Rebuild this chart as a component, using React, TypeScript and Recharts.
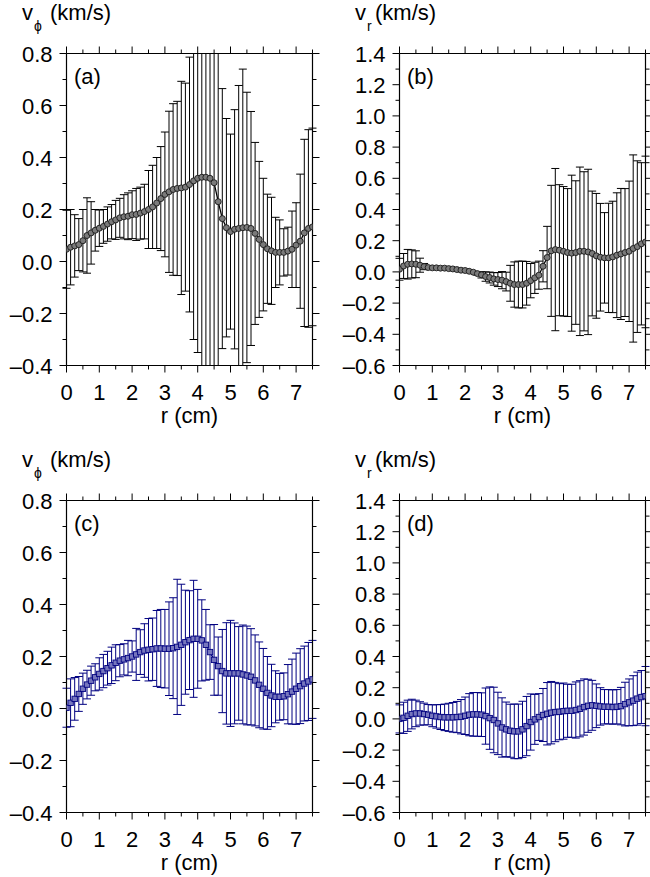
import React from 'react';
import { LineChart, Line, XAxis, YAxis, ErrorBar } from 'recharts';

const r = [0, 0.125, 0.25, 0.375, 0.5, 0.625, 0.75, 0.875, 1, 1.125, 1.25, 1.375, 1.5, 1.625, 1.75, 1.875, 2, 2.125, 2.25, 2.375, 2.5, 2.625, 2.75, 2.875, 3, 3.125, 3.25, 3.375, 3.5, 3.625, 3.75, 3.875, 4, 4.125, 4.25, 4.375, 4.5, 4.625, 4.75, 4.875, 5, 5.125, 5.25, 5.375, 5.5, 5.625, 5.75, 5.875, 6, 6.125, 6.25, 6.375, 6.5, 6.625, 6.75, 6.875, 7, 7.125, 7.25, 7.375, 7.5];

const vPhiA = [0.047, 0.055, 0.06, 0.065, 0.08, 0.1, 0.11, 0.12, 0.128, 0.135,
  0.144, 0.153, 0.16, 0.168, 0.172, 0.174, 0.18, 0.181, 0.186, 0.192,
  0.2, 0.21, 0.225, 0.242, 0.258, 0.268, 0.277, 0.281, 0.283, 0.286,
  0.296, 0.31, 0.32, 0.324, 0.324, 0.32, 0.303, 0.23, 0.165, 0.13,
  0.115, 0.124, 0.127, 0.13, 0.131, 0.127, 0.108, 0.085, 0.065, 0.049,
  0.041, 0.035, 0.035, 0.035, 0.04, 0.047, 0.063, 0.078, 0.11, 0.127, 0.133];
const vPhiAErr = [0.15, 0.145, 0.12, 0.1, 0.12, 0.145, 0.12, 0.08, 0.07, 0.065,
  0.066, 0.066, 0.075, 0.075, 0.085, 0.09, 0.092, 0.1, 0.1, 0.105,
  0.15, 0.16, 0.175, 0.2, 0.24, 0.31, 0.33, 0.335, 0.41, 0.4,
  0.49, 0.61, 0.67, 0.8, 0.85, 0.85, 0.75, 0.7, 0.5, 0.42,
  0.375, 0.46, 0.55, 0.61, 0.52, 0.45, 0.35, 0.3, 0.255, 0.21,
  0.206, 0.135, 0.125, 0.091, 0.092, 0.147, 0.163, 0.258, 0.36, 0.38, 0.38];

const vRB = [0.017, 0.038, 0.049, 0.051, 0.049, 0.043, 0.034, 0.028, 0.026, 0.026,
  0.024, 0.024, 0.021, 0.019, 0.015, 0.011, 0.009, 0.004, -0.002, -0.011,
  -0.019, -0.03, -0.036, -0.045, -0.049, -0.053, -0.062, -0.073, -0.081, -0.081,
  -0.081, -0.073, -0.056, -0.038, -0.021, 0.036, 0.092, 0.135, 0.143, 0.139,
  0.132, 0.124, 0.12, 0.124, 0.132, 0.132, 0.128, 0.118, 0.103, 0.094,
  0.09, 0.09, 0.096, 0.107, 0.115, 0.124, 0.132, 0.15, 0.162, 0.18, 0.192];
const vRBErr = [0.07, 0.08, 0.095, 0.09, 0.086, 0.045, 0.02, 0.01, 0.005, 0.005,
  0.005, 0.005, 0.005, 0.005, 0.005, 0.005, 0.005, 0.005, 0.005, 0.01,
  0.02, 0.03, 0.035, 0.04, 0.045, 0.055, 0.06, 0.115, 0.145, 0.15,
  0.15, 0.14, 0.11, 0.1, 0.09, 0.1, 0.2, 0.42, 0.52, 0.42,
  0.415, 0.41, 0.5, 0.46, 0.54, 0.51, 0.53, 0.4, 0.4, 0.345,
  0.29, 0.35, 0.357, 0.4, 0.42, 0.41, 0.45, 0.6, 0.55, 0.52, 0.55];

const vPhiC = [0.003, 0.022, 0.037, 0.056, 0.076, 0.092, 0.107, 0.12, 0.133, 0.144,
  0.155, 0.166, 0.176, 0.184, 0.189, 0.194, 0.2, 0.208, 0.217, 0.223,
  0.226, 0.228, 0.231, 0.231, 0.23, 0.23, 0.232, 0.237, 0.245, 0.255,
  0.263, 0.268, 0.268, 0.262, 0.245, 0.217, 0.187, 0.163, 0.144, 0.135,
  0.135, 0.135, 0.135, 0.131, 0.127, 0.122, 0.108, 0.091, 0.076, 0.06,
  0.05, 0.045, 0.045, 0.047, 0.055, 0.065, 0.076, 0.086, 0.096, 0.104, 0.112];
const vPhiCErr = [0.075, 0.092, 0.082, 0.067, 0.06, 0.055, 0.056, 0.052, 0.062, 0.064,
  0.065, 0.07, 0.069, 0.062, 0.06, 0.068, 0.06, 0.1, 0.086, 0.103,
  0.12, 0.12, 0.146, 0.15, 0.151, 0.18, 0.194, 0.26, 0.233, 0.2,
  0.19, 0.225, 0.19, 0.156, 0.136, 0.105, 0.136, 0.112, 0.16, 0.195,
  0.204, 0.194, 0.18, 0.19, 0.19, 0.185, 0.175, 0.165, 0.155, 0.14,
  0.12, 0.1, 0.09, 0.09, 0.114, 0.125, 0.137, 0.144, 0.144, 0.15, 0.15];

const vRD = [0, 0.007, 0.02, 0.031, 0.035, 0.035, 0.031, 0.027, 0.02, 0.016,
  0.012, 0.01, 0.01, 0.01, 0.012, 0.014, 0.02, 0.027, 0.029, 0.029,
  0.027, 0.018, 0.005, -0.007, -0.029, -0.055, -0.067, -0.076, -0.08, -0.08,
  -0.067, -0.046, -0.02, -0.003, 0.012, 0.025, 0.033, 0.04, 0.044, 0.046,
  0.05, 0.052, 0.052, 0.057, 0.065, 0.076, 0.084, 0.087, 0.084, 0.08,
  0.078, 0.078, 0.076, 0.078, 0.082, 0.095, 0.106, 0.117, 0.13, 0.14, 0.146];
const vRDErr = [0.09, 0.1, 0.1, 0.095, 0.085, 0.075, 0.07, 0.065, 0.07, 0.075,
  0.08, 0.085, 0.09, 0.095, 0.1, 0.11, 0.12, 0.135, 0.14, 0.14,
  0.14, 0.18, 0.2, 0.21, 0.2, 0.19, 0.175, 0.17, 0.175, 0.175,
  0.18, 0.19, 0.18, 0.16, 0.15, 0.17, 0.2, 0.2, 0.19, 0.18,
  0.18, 0.17, 0.17, 0.18, 0.18, 0.18, 0.17, 0.16, 0.14, 0.12,
  0.11, 0.11, 0.11, 0.11, 0.12, 0.14, 0.15, 0.16, 0.17, 0.17, 0.19];

const xTicks = [0, 0.5, 1, 1.5, 2, 2.5, 3, 3.5, 4, 4.5, 5, 5.5, 6, 6.5, 7, 7.5];
const yTicksPhi = [-0.4, -0.3, -0.2, -0.1, 0, 0.1, 0.2, 0.3, 0.4, 0.5, 0.6, 0.7, 0.8];
const yTicksR = [-0.6, -0.5, -0.4, -0.3, -0.2, -0.1, 0, 0.1, 0.2, 0.3, 0.4, 0.5, 0.6, 0.7, 0.8, 0.9, 1.0, 1.1, 1.2, 1.3, 1.4];

const FONT = '"Liberation Sans", Arial, Helvetica, sans-serif';
const FS = 22;
const MAJ = 7;
const MIN = 4;

const isMajorX = (v: number) => Math.abs(v - Math.round(v)) < 1e-6;
const isMajorY = (v: number) => Math.abs(v * 5 - Math.round(v * 5)) < 1e-6;
const fmtY = (v: number) => {
  const s = Math.abs(v).toFixed(1);
  return v < -1e-9 ? '\u2013' + s : s;
};

const BottomTick = (p: any) => {
  const v = p.payload.value;
  const major = isMajorX(v);
  return (
    <g>
      <line x1={p.x} x2={p.x} y1={p.y} y2={p.y + (major ? MAJ : MIN)} stroke="#000" strokeWidth={1} />
      {major && (
        <text x={p.x} y={p.y + 34} textAnchor="middle" fontSize={FS} fontFamily={FONT} fill="#000">{v}</text>
      )}
    </g>
  );
};
const TopTick = (p: any) => {
  const major = isMajorX(p.payload.value);
  return <line x1={p.x} x2={p.x} y1={p.y} y2={p.y - (major ? MAJ : MIN)} stroke="#000" strokeWidth={1} />;
};
const LeftTick = (p: any) => {
  const v = p.payload.value;
  const major = isMajorY(v);
  return (
    <g>
      <line x1={p.x} x2={p.x - (major ? MAJ : MIN)} y1={p.y} y2={p.y} stroke="#000" strokeWidth={1} />
      {major && (
        <text x={p.x - 14} y={p.y + 8} textAnchor="end" fontSize={FS} fontFamily={FONT} fill="#000">{fmtY(v)}</text>
      )}
    </g>
  );
};
const RightTick = (p: any) => {
  const major = isMajorY(p.payload.value);
  return <line x1={p.x} x2={p.x + (major ? MAJ : MIN)} y1={p.y} y2={p.y} stroke="#000" strokeWidth={1} />;
};

type PanelProps = {
  left: number; top: number; width: number; height: number;
  margin: { top: number; left: number; right: number; bottom: number };
  vals: number[]; errs: number[];
  yDomain: [number, number]; yTicks: number[];
  tag: string; sub: string; unitDx: number;
  blue: boolean;
};

const SquareDot = (p: any) => {
  if (p.cx == null || p.cy == null) return <g key={`sq${p.index}`} />;
  return (
    <rect key={`sq${p.index}`} x={p.cx - 2.7} y={p.cy - 2.7} width={5.4} height={5.4}
      fill="#7676bd" stroke="#000080" strokeWidth={0.9} />
  );
};

const AX = 1; // axis band size

function Panel(props: PanelProps) {
  const { left, top, width, height, margin, vals, errs, yDomain, yTicks, tag, sub, unitDx, blue } = props;
  const [lo, hi] = yDomain;
  // error extents limited to the visible frame (the reference clips them at the frame)
  const data = r.map((rv, i) => ({
    r: rv,
    v: vals[i],
    e: [Math.min(errs[i], vals[i] - lo), Math.min(errs[i], hi - vals[i])],
  }));
  const pl = margin.left, pt = margin.top;
  const pw = width - margin.left - margin.right;
  const ph = height - margin.top - margin.bottom;
  const m = { top: pt - AX, left: pl - AX, right: margin.right - AX, bottom: margin.bottom - AX };
  const lineColor = blue ? '#000080' : '#000';
  const axisLine = { stroke: '#000', strokeWidth: 1.2 };

  const BT = (p: any) => <BottomTick {...p} y={pt + ph} />;
  const TT = (p: any) => <TopTick {...p} y={pt} />;
  const LT = (p: any) => <LeftTick {...p} x={pl} />;
  const RT = (p: any) => <RightTick {...p} x={pl + pw} />;

  const titleLabel = () => {
    const x0 = pl - 44.5;
    const y0 = pt - 33.5;
    return (
      <text x={x0} y={y0} fontSize={FS} fontFamily={FONT} fill="#000">
        <tspan>v</tspan>
        <tspan x={x0 + 12} y={y0 + 11} fontSize={14}>{sub}</tspan>
        <tspan x={x0 + unitDx} y={y0}>(km/s)</tspan>
      </text>
    );
  };
  const tagLabel = () => (
    <text x={pl + 7.5} y={pt + 30.5} fontSize={FS} fontFamily={FONT} fill="#000">{tag}</text>
  );
  const xTitle = () => (
    <text x={pl + pw / 2} y={pt + ph + 57} textAnchor="middle" fontSize={FS} fontFamily={FONT} fill="#000">r (cm)</text>
  );

  return (
    <div style={{ position: 'absolute', left, top, width, height }}>
      <LineChart width={width} height={height} data={data} margin={m}>
        <XAxis xAxisId="b" dataKey="r" type="number" domain={[0, 7.5]} ticks={xTicks} interval={0}
          allowDataOverflow height={AX} tickLine={false} tickSize={0} tickMargin={0}
          tick={BT} axisLine={axisLine} label={xTitle} />
        <XAxis xAxisId="t" orientation="top" dataKey="r" type="number" domain={[0, 7.5]} ticks={xTicks} interval={0}
          allowDataOverflow height={AX} tickLine={false} tickSize={0} tickMargin={0}
          tick={TT} axisLine={axisLine} label={tagLabel} />
        <YAxis yAxisId="l" type="number" domain={yDomain} ticks={yTicks} interval={0}
          allowDataOverflow width={AX} tickLine={false} tickSize={0} tickMargin={0}
          tick={LT} axisLine={axisLine} label={titleLabel} />
        <YAxis yAxisId="r" orientation="right" type="number" domain={yDomain} ticks={yTicks} interval={0}
          allowDataOverflow width={AX} tickLine={false} tickSize={0} tickMargin={0}
          tick={RT} axisLine={axisLine} />
        <Line xAxisId="b" yAxisId="l" dataKey="v" type="linear" stroke={lineColor} strokeWidth={1.3}
          isAnimationActive={false}
          dot={blue ? SquareDot : { r: 3, fill: '#7a7a7a', stroke: '#1a1a1a', strokeWidth: 0.9 }}
          activeDot={false}>
          <ErrorBar dataKey="e" direction="y" width={4} stroke={lineColor} strokeWidth={1}
            isAnimationActive={false} />
        </Line>
      </LineChart>
    </div>
  );
}

export default function App() {
  return (
    <div style={{ position: 'absolute', left: 0, top: 0, width: 650, height: 877, overflow: 'hidden', background: '#fff' }}>
      <Panel left={0} top={0} width={325} height={440}
        margin={{ top: 53.5, left: 66.5, right: 12.5, bottom: 74.5 }}
        vals={vPhiA} errs={vPhiAErr} yDomain={[-0.4, 0.8]} yTicks={yTicksPhi}
        tag="(a)" sub={'\u03D5'} unitDx={28} blue={false} />
      <Panel left={325} top={0} width={325} height={440}
        margin={{ top: 53.5, left: 74.5, right: 4.5, bottom: 74.5 }}
        vals={vRB} errs={vRBErr} yDomain={[-0.6, 1.4]} yTicks={yTicksR}
        tag="(b)" sub="r" unitDx={20} blue={false} />
      <Panel left={0} top={440} width={325} height={437}
        margin={{ top: 60.5, left: 66.5, right: 12.5, bottom: 64.5 }}
        vals={vPhiC} errs={vPhiCErr} yDomain={[-0.4, 0.8]} yTicks={yTicksPhi}
        tag="(c)" sub={'\u03D5'} unitDx={28} blue={true} />
      <Panel left={325} top={440} width={325} height={437}
        margin={{ top: 60.5, left: 74.5, right: 4.5, bottom: 64.5 }}
        vals={vRD} errs={vRDErr} yDomain={[-0.6, 1.4]} yTicks={yTicksR}
        tag="(d)" sub="r" unitDx={20} blue={true} />
    </div>
  );
}
